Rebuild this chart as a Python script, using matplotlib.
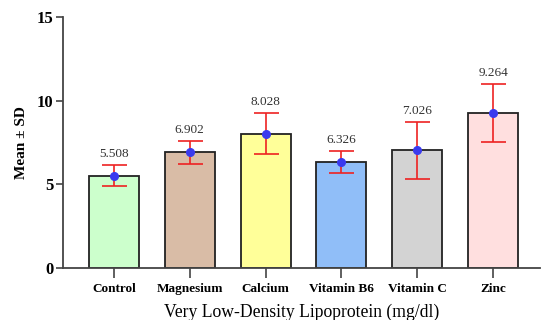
import matplotlib
matplotlib.use("Agg")
import matplotlib.pyplot as plt
import numpy as np

categories = ["Control", "Magnesium", "Calcium", "Vitamin B6", "Vitamin C", "Zinc"]
means = [5.508, 6.902, 8.028, 6.326, 7.026, 9.264]
sds = [0.63, 0.68, 1.2, 0.65, 1.7, 1.74]
colors = ["#ccffcc", "#d9bca6", "#ffff99", "#90bef8", "#d3d3d3", "#ffdfdf"]
yticks = [0, 5, 10, 15]

plt.rcParams['font.family'] = ['Liberation Serif', 'DejaVu Serif']

fig = plt.figure(figsize=(5.41, 3.2), dpi=100)
ax = fig.add_axes([0.1165, 0.1625, 0.882, 0.785])
x = np.arange(len(categories))
ax.bar(x, means, width=0.66, color=colors, edgecolor="#222222", linewidth=1.3, zorder=2)
ax.errorbar(x, means, yerr=sds, fmt='none', ecolor="#ee2222", elinewidth=1.2,
            capsize=9, capthick=1.2, zorder=3)
ax.plot(x, means, 'o', color="#3a3aee", markersize=5.5, zorder=4)
for xi, m, s in zip(x, means, sds):
    ax.text(xi, m + s + 0.3, f"{m:.3f}", ha='center', va='bottom', fontsize=9.5, color="#333333")

ax.set_xlim(-0.67, 5.62)
ax.set_ylim(0, 15)
ax.set_yticks(yticks)
ax.set_xticks(x)
ax.set_xticklabels(categories, fontweight='bold', fontsize=9.5)
ax.set_yticklabels([str(t) for t in yticks], fontweight='bold', fontsize=12)
for s in ['top', 'right']:
    ax.spines[s].set_visible(False)
for s in ['left', 'bottom']:
    ax.spines[s].set_color("#444444")
    ax.spines[s].set_linewidth(1.3)
ax.tick_params(axis='y', length=5, width=1.2, color="#444444", pad=2)
ax.tick_params(axis='x', length=7, width=1.2, color="#444444", pad=4)
ax.set_ylabel("Mean ± SD", fontweight='bold', fontsize=11, labelpad=6)
ax.set_xlabel("Very Low-Density Lipoprotein (mg/dl)", fontsize=12.7, labelpad=6)

fig.savefig("out.png", dpi=100)
